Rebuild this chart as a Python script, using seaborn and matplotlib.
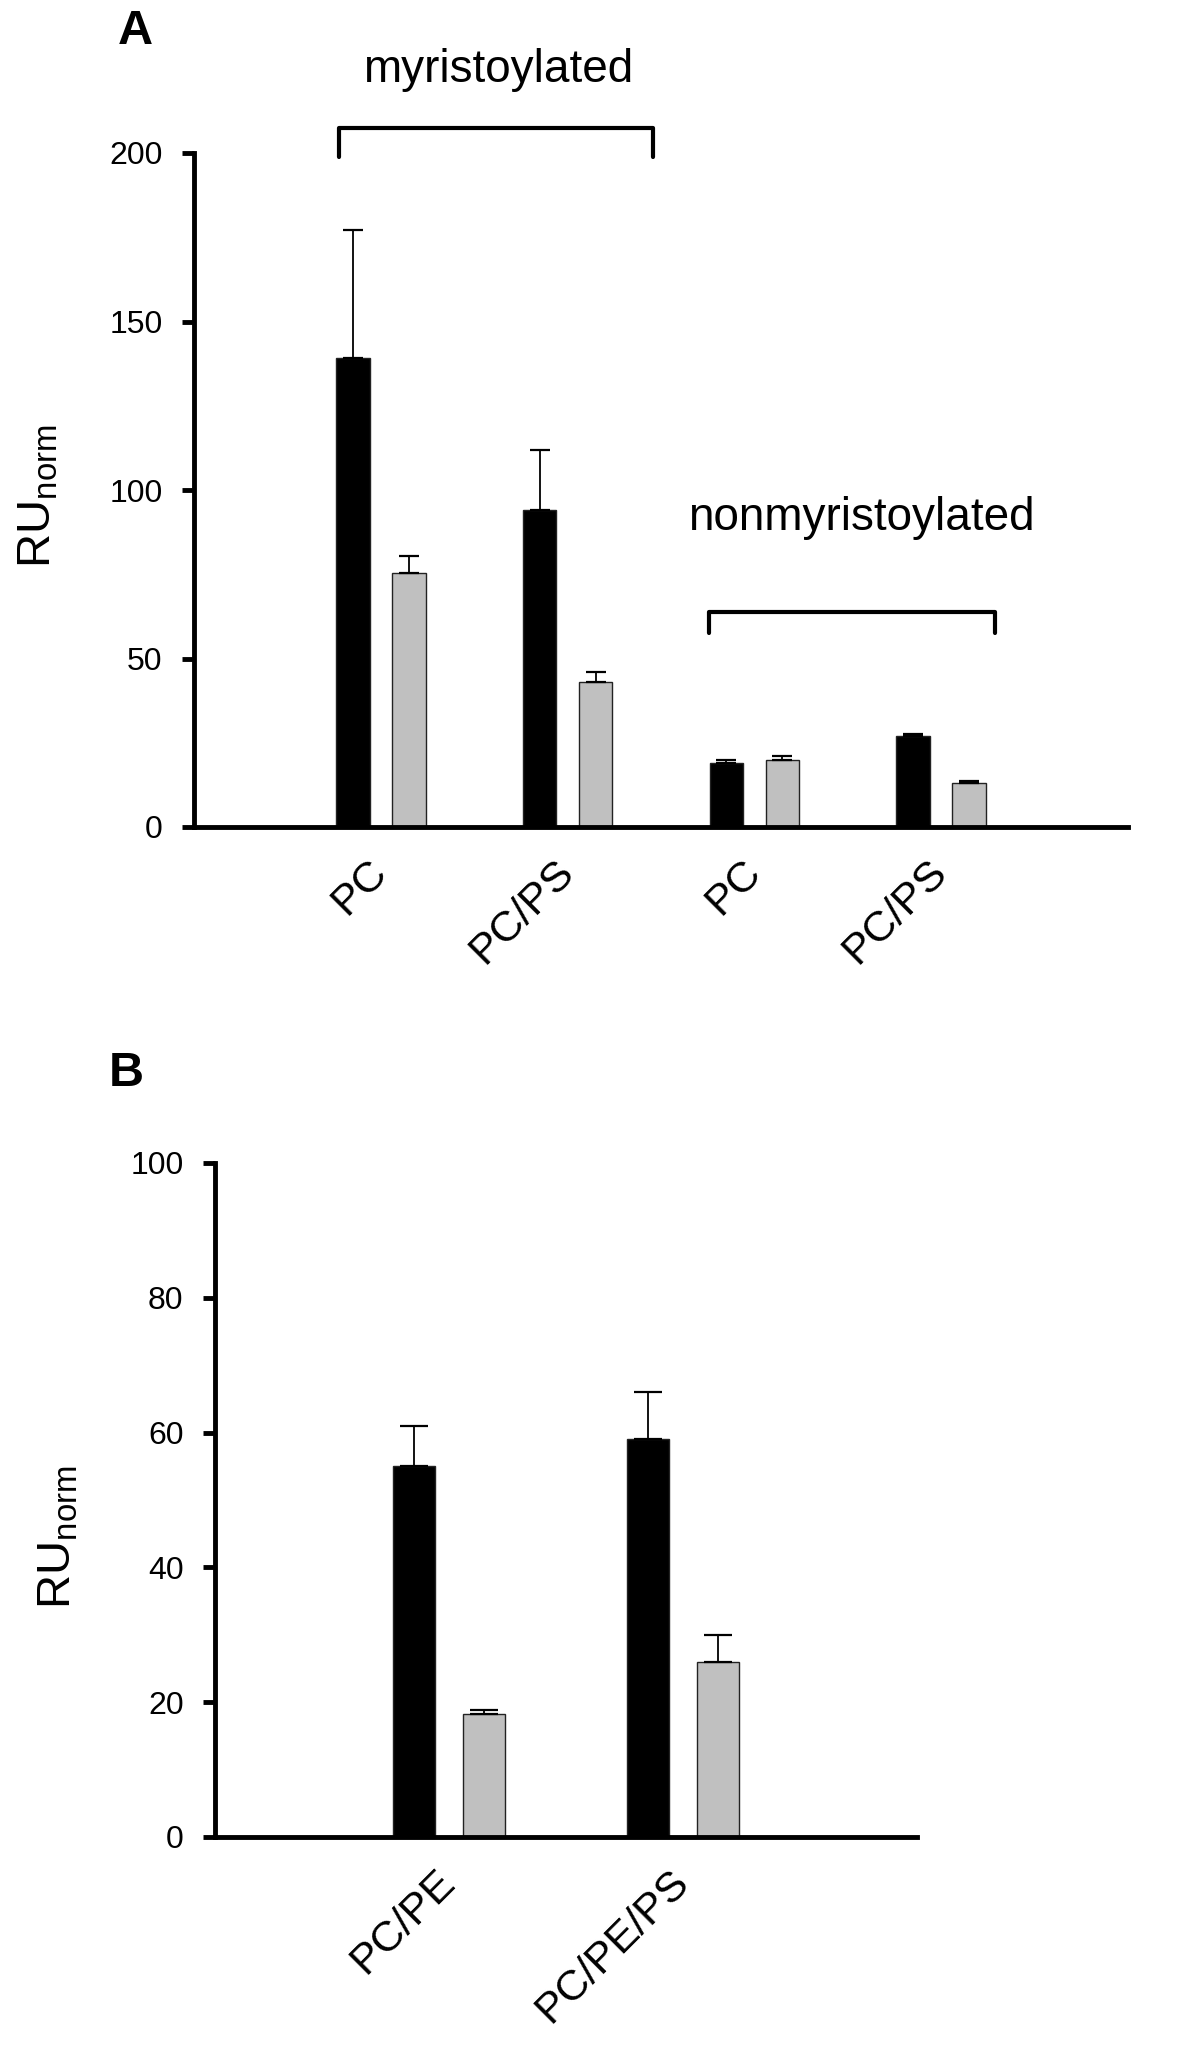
import matplotlib
matplotlib.use("Agg")
import matplotlib.pyplot as plt
import seaborn as sns
import pandas as pd

# ---------------- data ----------------
# Panel A
a_groups = ["myr PC", "myr PC/PS", "nonmyr PC", "nonmyr PC/PS"]
a_tick_labels = ["PC", "PC/PS", "PC", "PC/PS"]
a_black = [139.2, 94.2, 19.0, 27.0]
a_black_err = [38.0, 17.8, 1.0, 0.6]
a_gray = [75.5, 43.0, 20.0, 13.0]
a_gray_err = [5.0, 2.9, 1.0, 0.6]

# Panel B
b_groups = ["PC/PE", "PC/PE/PS"]
b_tick_labels = ["PC/PE", "PC/PE/PS"]
b_black = [55.0, 59.0]
b_black_err = [6.0, 7.0]
b_gray = [18.2, 26.0]
b_gray_err = [0.7, 4.0]

conditions = ["condition 1", "condition 2"]
palette = ["#000000", "#C0C0C0"]

# ---------------- style ----------------
sns.set_style("white")
plt.rcParams["font.family"] = ["Liberation Sans", "DejaVu Sans"]
plt.rcParams["mathtext.default"] = "regular"
plt.rcParams["text.color"] = "black"
plt.rcParams["axes.labelcolor"] = "black"
plt.rcParams["xtick.color"] = "black"
plt.rcParams["ytick.color"] = "black"

W, H = 1200, 2051
fig = plt.figure(figsize=(W / 100, H / 100), dpi=100)


def fx(px):
    return px / W


def fy(py):
    return 1 - py / H


def make_df(groups, black, gray):
    rows = []
    for g, v in zip(groups, black):
        rows.append({"group": g, "value": v, "cond": conditions[0]})
    for g, v in zip(groups, gray):
        rows.append({"group": g, "value": v, "cond": conditions[1]})
    return pd.DataFrame(rows)


def draw_panel(ax, groups, ticklabels, black, black_err, gray, gray_err,
               ymax, ystep, capsize):
    df = make_df(groups, black, gray)
    sns.barplot(data=df, x="group", y="value", hue="cond", order=groups,
                hue_order=conditions, palette=palette, width=0.6, gap=0.4,
                errorbar=None, edgecolor="#222222", linewidth=1.0,
                legend=False, ax=ax)
    errs = [black_err, gray_err]
    for cont, err in zip(ax.containers, errs):
        xs = [b.get_x() + b.get_width() / 2 for b in cont]
        hs = [b.get_height() for b in cont]
        ax.errorbar(xs, hs, yerr=[[0] * len(err), err], fmt="none",
                    ecolor="black", elinewidth=1.3, capsize=capsize,
                    capthick=1.6, zorder=1)
    n = len(groups)
    ax.set_xlim(-1, n)
    ax.set_ylim(0, ymax)
    ax.set_yticks(range(0, ymax + 1, ystep))
    ax.set_xticks(range(n))
    ax.set_xticklabels(ticklabels, rotation=45, ha="right", va="center",
                       rotation_mode="anchor", fontsize=31, color="black")
    ax.set_xlabel("")
    ax.set_ylabel("")
    for s in ["top", "right"]:
        ax.spines[s].set_visible(False)
    for s in ["left", "bottom"]:
        ax.spines[s].set_linewidth(3.5)
        ax.spines[s].set_color("black")
    ax.tick_params(axis="y", length=8.6, width=3.5, pad=14, labelsize=23,
                   direction="out", left=True, colors="black")
    ax.tick_params(axis="x", length=0, pad=28, colors="black")
    ax.grid(False)


# ---------------- panel A ----------------
axA = fig.add_axes([fx(194), fy(827), (1128 - 194) / W, (827 - 153) / H])
draw_panel(axA, a_groups, a_tick_labels, a_black, a_black_err, a_gray,
           a_gray_err, 200, 50, 7.5)

# brackets and group labels
axA.plot([-0.224, -0.224, 1.457, 1.457], [198.8, 207.4, 207.4, 198.8],
         color="black", lw=3.0, clip_on=False, solid_capstyle="round",
         solid_joinstyle="round")
axA.text(0.627, 221, "myristoylated", fontsize=33, ha="center",
         va="baseline", clip_on=False, color="black")
axA.plot([1.757, 1.757, 3.288, 3.288], [57.6, 63.8, 63.8, 57.6],
         color="black", lw=3.0, clip_on=False, solid_capstyle="round",
         solid_joinstyle="round")
axA.text(2.571, 88, "nonmyristoylated", fontsize=33, ha="center",
         va="baseline", color="black")

# ---------------- panel B ----------------
axB = fig.add_axes([fx(215), fy(1837), (917 - 215) / W, (1837 - 1163) / H])
draw_panel(axB, b_groups, b_tick_labels, b_black, b_black_err, b_gray,
           b_gray_err, 100, 20, 10)

# ---------------- labels ----------------
fig.text(fx(38), fy(496), "RU$_{norm}$", rotation=90, fontsize=34,
         ha="center", va="center", color="black")
fig.text(fx(59), fy(1537), "RU$_{norm}$", rotation=90, fontsize=34,
         ha="center", va="center", color="black")
fig.text(fx(135), fy(32), "A", fontsize=35, fontweight="bold",
         ha="center", va="center", color="black")
fig.text(fx(126), fy(1073), "B", fontsize=35, fontweight="bold",
         ha="center", va="center", color="black")

fig.savefig("out.png", dpi=100, facecolor="white")
